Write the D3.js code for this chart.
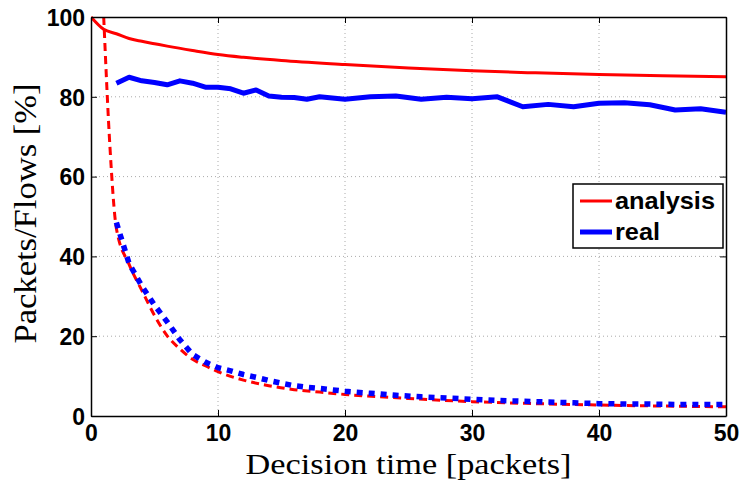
<!DOCTYPE html>
<html>
<head>
<meta charset="utf-8">
<script src="https://cdn.jsdelivr.net/npm/d3@7"></script>
<style>
body { margin: 0; background: #fff; }
svg { display: block; }
.tick-label { font-family: "Liberation Sans", Arial, sans-serif; font-weight: bold; font-size: 23px; fill: #000; }
.axis-title { font-family: "Liberation Serif", "DejaVu Serif", serif; font-size: 29px; fill: #000; }
.axis-title-y { font-family: "Liberation Serif", "DejaVu Serif", serif; font-size: 31px; fill: #000; }
.legend-text { font-family: "Liberation Sans", Arial, sans-serif; font-weight: bold; font-size: 24px; fill: #000; }
</style>
</head>
<body>
<svg></svg>
<script>
//Tick labels
const xTicks = [0, 10, 20, 30, 40, 50];
const yTicks = [0, 20, 40, 60, 80, 100];

//Analysis, packets (red solid)
const analysisPktX = [0, 1, 2, 3, 4, 5, 6, 8, 10, 12, 15, 20, 25, 30, 35, 40, 45, 50];
const analysisPktY = [100, 96.9, 95.8, 94.6, 93.9, 93.3, 92.7, 91.6, 90.6, 89.9, 89.1, 88.1, 87.2, 86.5, 86.0, 85.6, 85.3, 85.0];

//Analysis, flows (red dashed)
const analysisFlowX = [1, 1.5, 2, 3, 4, 5, 6, 7, 8, 9, 10, 12, 14, 16, 18, 20, 25, 30, 35, 40, 45, 50];
const analysisFlowY = [100, 67, 47, 38, 31.5, 25.2, 20.1, 16.8, 14.2, 12.6, 11.1, 9.0, 7.6, 6.6, 6.0, 5.4, 4.4, 3.6, 3.1, 2.75, 2.5, 2.3];

//Real, packets (blue solid)
const realPktX = [2, 3, 4, 5, 6, 7, 8, 9, 10, 11, 12, 13, 14, 15, 16, 17, 18, 19, 20, 22, 24, 26, 28, 30, 32, 34, 36, 38, 40, 42, 44, 46, 48, 50];
const realPktY = [83.4, 84.9, 84.0, 83.6, 83.0, 84.0, 83.4, 82.4, 82.4, 82.0, 80.9, 81.7, 80.2, 79.9, 79.8, 79.4, 80.0, 79.7, 79.4, 80.0, 80.2, 79.4, 79.9, 79.5, 80.0, 77.5, 78.1, 77.5, 78.4, 78.5, 78.0, 76.7, 77.0, 76.1];

//Real, flows (blue dotted)
const realFlowX = [2, 3, 4, 5, 6, 7, 8, 9, 10, 11, 12, 13, 14, 15, 16, 17, 18, 20, 22, 24, 26, 28, 30, 32, 34, 36, 38, 40, 42, 44, 46, 48, 50];
const realFlowY = [48.5, 38.2, 32.6, 27.8, 23.6, 19.1, 15.4, 13.5, 12.1, 11.3, 10.4, 9.7, 8.9, 8.2, 7.6, 7.2, 6.9, 6.2, 5.7, 5.2, 4.8, 4.5, 4.2, 3.9, 3.7, 3.5, 3.3, 3.1, 3.0, 3.0, 2.9, 2.9, 2.9];

const legendNames = ['analysis', 'real'];
const legendColors = ['#ff0000', '#0000ff'];

const Plot = { left: 91, right: 726, top: 17, bottom: 416 };

const svg = d3.select('svg')
.attr('width', 742)
.attr('height', 480)
;

//Create Scales
const xScale = d3.scaleLinear().domain([0, 50]).range([Plot.left, Plot.right]);
const yScale = d3.scaleLinear().domain([0, 100]).range([Plot.bottom, Plot.top]);

svg.append('clipPath')
.attr('id', 'plotClip')
.append('rect')
.attr('x', Plot.left)
.attr('y', Plot.top - 2)
.attr('width', Plot.right - Plot.left)
.attr('height', Plot.bottom - Plot.top + 2)
;

//Grid
svg.append('g')
.selectAll('line')
.data(xTicks.slice(1, -1))
.enter()
.append('line')
.attr('x1', d => xScale(d)).attr('x2', d => xScale(d))
.attr('y1', Plot.top).attr('y2', Plot.bottom)
.attr('stroke', '#aaa')
.attr('stroke-width', 1)
.attr('stroke-dasharray', '1,3')
;

svg.append('g')
.selectAll('line')
.data(yTicks.slice(1, -1))
.enter()
.append('line')
.attr('x1', Plot.left).attr('x2', Plot.right)
.attr('y1', d => yScale(d)).attr('y2', d => yScale(d))
.attr('stroke', '#aaa')
.attr('stroke-width', 1)
.attr('stroke-dasharray', '1,3')
;

//Draw Lines
const zip = (xs, ys) => xs.map((x, i) => [x, ys[i]]);
const smoothLine = d3.line().x(d => xScale(d[0])).y(d => yScale(d[1])).curve(d3.curveMonotoneX);
const straightLine = d3.line().x(d => xScale(d[0])).y(d => yScale(d[1]));

const lines = svg.append('g').attr('clip-path', 'url(#plotClip)');

lines.append('path')
.attr('d', smoothLine(zip(analysisFlowX, analysisFlowY)))
.attr('fill', 'none')
.attr('stroke', '#ff0000')
.attr('stroke-width', 3)
.attr('stroke-dasharray', '8,5')
;

lines.append('path')
.attr('d', straightLine(zip(realFlowX, realFlowY)))
.attr('fill', 'none')
.attr('stroke', '#0000ff')
.attr('stroke-width', 5.5)
.attr('stroke-dasharray', '6,6')
;

lines.append('path')
.attr('d', smoothLine(zip(analysisPktX, analysisPktY)))
.attr('fill', 'none')
.attr('stroke', '#ff0000')
.attr('stroke-width', 3)
;

lines.append('path')
.attr('d', straightLine(zip(realPktX, realPktY)))
.attr('fill', 'none')
.attr('stroke', '#0000ff')
.attr('stroke-width', 5)
.attr('stroke-linejoin', 'round')
;

//Axes box and inner ticks
const bottomAxis = svg.append('g')
.attr('transform', `translate(0, ${Plot.bottom})`)
.call(d3.axisBottom(xScale).tickValues(xTicks).tickSizeInner(-6).tickSizeOuter(0).tickFormat(d3.format('d')).tickPadding(9))
;
const topAxis = svg.append('g')
.attr('transform', `translate(0, ${Plot.top})`)
.call(d3.axisTop(xScale).tickValues(xTicks).tickSizeInner(-6).tickSizeOuter(0).tickFormat(''))
;
const leftAxis = svg.append('g')
.attr('transform', `translate(${Plot.left}, 0)`)
.call(d3.axisLeft(yScale).tickValues(yTicks).tickSizeInner(-6).tickSizeOuter(0).tickFormat(d3.format('d')).tickPadding(6))
;
const rightAxis = svg.append('g')
.attr('transform', `translate(${Plot.right}, 0)`)
.call(d3.axisRight(yScale).tickValues(yTicks).tickSizeInner(-6).tickSizeOuter(0).tickFormat(''))
;

[bottomAxis, topAxis, leftAxis, rightAxis].forEach(ax => {
    ax.select('.domain').attr('stroke', '#000').attr('stroke-width', 1.5);
    ax.selectAll('.tick line').attr('stroke', '#000').attr('stroke-width', 1);
    ax.selectAll('.tick text').attr('class', 'tick-label').attr('font-size', null).attr('font-family', null);
});

bottomAxis.selectAll('.tick text').attr('dy', '0.71em');
leftAxis.selectAll('.tick text').attr('dy', '0.36em');

//Axis titles
svg.append('text')
.attr('class', 'axis-title')
.attr('x', (Plot.left + Plot.right) / 2)
.attr('y', 473.5)
.attr('text-anchor', 'middle')
.attr('textLength', 326)
.attr('lengthAdjust', 'spacingAndGlyphs')
.text('Decision time [packets]')
;

svg.append('text')
.attr('class', 'axis-title-y')
.attr('transform', `translate(36, ${(Plot.top + Plot.bottom) / 2 - 3}) rotate(-90)`)
.attr('text-anchor', 'middle')
.attr('textLength', 260)
.attr('lengthAdjust', 'spacingAndGlyphs')
.text('Packets/Flows [%]')
;

//Legend
const legend = svg.append('g');

legend.append('rect')
.attr('x', 573)
.attr('y', 184)
.attr('width', 150)
.attr('height', 64)
.attr('fill', '#fff')
.attr('stroke', '#000')
.attr('stroke-width', 1.5)
;

const legendRows = legend.selectAll('.legend-row')
.data(legendNames)
.enter()
.append('g')
.classed('legend-row', true)
.attr('transform', (d, i) => `translate(0, ${201 + i * 31})`)
;

legendRows.append('line')
.attr('x1', 580)
.attr('x2', 612)
.attr('stroke', (d, i) => legendColors[i])
.attr('stroke-width', (d, i) => i === 0 ? 3 : 5)
;

legendRows.append('text')
.attr('class', 'legend-text')
.attr('x', 615)
.attr('y', 8)
.attr('textLength', (d, i) => i === 0 ? 100 : 45)
.attr('lengthAdjust', 'spacingAndGlyphs')
.text(d => d)
;
</script>
</body>
</html>
